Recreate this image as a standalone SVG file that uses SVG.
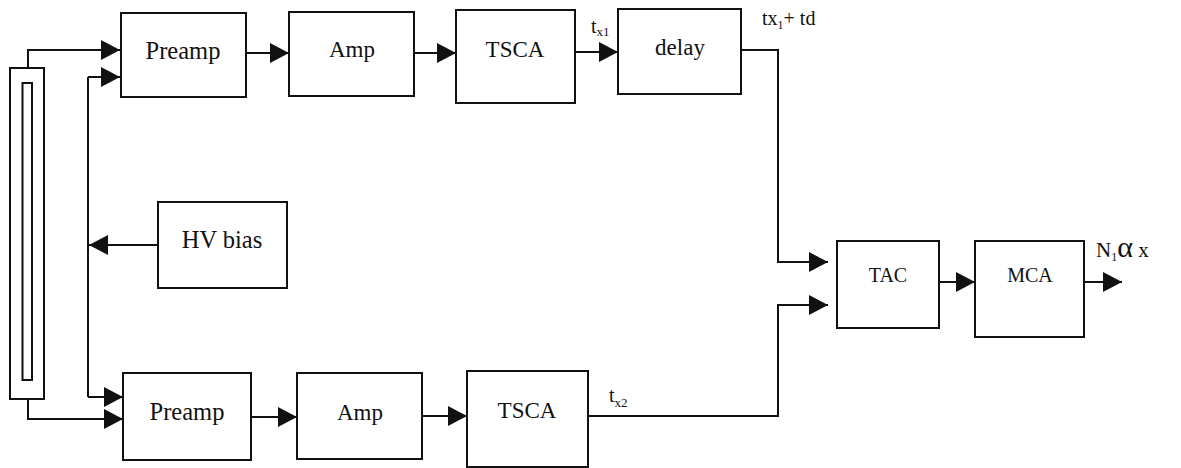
<svg xmlns="http://www.w3.org/2000/svg" width="1181" height="468" viewBox="0 0 1181 468" font-family="'Liberation Serif', 'DejaVu Serif', serif">
<defs>
<style>
.box{fill:#fff;stroke:#111;stroke-width:2}
.ln{fill:none;stroke:#111;stroke-width:2}
text{font-family:'Liberation Serif','DejaVu Serif',serif;fill:#111}
.lbl{text-anchor:middle}
.big{font-size:23px}
.wide{font-size:24.5px}
.sm{font-size:20px}
</style>
<marker id="ah" markerUnits="userSpaceOnUse" markerWidth="20" markerHeight="20" refX="19" refY="10" orient="auto" viewBox="0 0 20 20">
<path d="M0,0 L19,10 L0,20 z" fill="#111"/>
</marker>
</defs>
<rect width="1181" height="468" fill="#fff"/>
<g id="detector">
<rect class="box" x="10" y="68" width="34" height="331"/>
<rect class="box" x="22.5" y="83" width="9.5" height="297"/>
</g>
<g id="connectors">
<path class="ln" d="M28,68 V50 H120" marker-end="url(#ah)"/>
<path class="ln" d="M88,77 H120" marker-end="url(#ah)"/>
<path class="ln" d="M88,77 V397"/>
<path class="ln" d="M88,397 H123" marker-end="url(#ah)"/>
<path class="ln" d="M28,399 V419 H123" marker-end="url(#ah)"/>
<path class="ln" d="M158,245 H89" marker-end="url(#ah)"/>
<path class="ln" d="M246,53 H289" marker-end="url(#ah)"/>
<path class="ln" d="M414,53 H456" marker-end="url(#ah)"/>
<path class="ln" d="M575,52 H618" marker-end="url(#ah)"/>
<path class="ln" d="M741,50 H778 V262 H828" marker-end="url(#ah)"/>
<path class="ln" d="M251,417 H297" marker-end="url(#ah)"/>
<path class="ln" d="M422,416 H467" marker-end="url(#ah)"/>
<path class="ln" d="M588,416 H778 V305 H828" marker-end="url(#ah)"/>
<path class="ln" d="M939,282 H975" marker-end="url(#ah)"/>
<path class="ln" d="M1084,282 H1122" marker-end="url(#ah)"/>
</g>
<g id="preamp1"><rect class="box" x="121" y="13" width="125" height="84"/><text class="lbl wide" x="183" y="59">Preamp</text></g>
<g id="amp1"><rect class="box" x="289" y="12" width="125" height="84"/><text class="lbl big" x="352" y="57">Amp</text></g>
<g id="tsca1"><rect class="box" x="456" y="10" width="119" height="93"/><text class="lbl big" x="515" y="57">TSCA</text></g>
<g id="delay"><rect class="box" x="618" y="9" width="123" height="85"/><text class="lbl big" x="680" y="55">delay</text></g>
<g id="hvbias"><rect class="box" x="158" y="202" width="129" height="86"/><text class="lbl wide" x="222" y="248">HV bias</text></g>
<g id="preamp2"><rect class="box" x="123" y="373" width="128" height="87"/><text class="lbl wide" x="187" y="420">Preamp</text></g>
<g id="amp2"><rect class="box" x="297" y="373" width="125" height="86"/><text class="lbl big" x="360" y="420">Amp</text></g>
<g id="tsca2"><rect class="box" x="467" y="371" width="121" height="96"/><text class="lbl big" x="527" y="418">TSCA</text></g>
<g id="tac"><rect class="box" x="837" y="241" width="102" height="87"/><text class="lbl sm" x="888" y="282">TAC</text></g>
<g id="mca"><rect class="box" x="975" y="241" width="109" height="96"/><text class="lbl sm" x="1030" y="282" font-size="21">MCA</text></g>
<g id="labels">
<text x="591" y="33" font-size="20">t<tspan font-size="13" dy="3">x1</tspan></text>
<text x="762" y="25" font-size="20">tx<tspan font-size="12" dy="4">1</tspan><tspan dy="-4">+ td</tspan></text>
<text x="609" y="402" font-size="20">t<tspan font-size="13" dy="5">x2</tspan></text>
<text x="1096" y="257" font-size="21">N<tspan font-size="12" dy="4">1</tspan><tspan font-size="30" dy="-4">α</tspan><tspan> x</tspan></text>
</g>
</svg>
